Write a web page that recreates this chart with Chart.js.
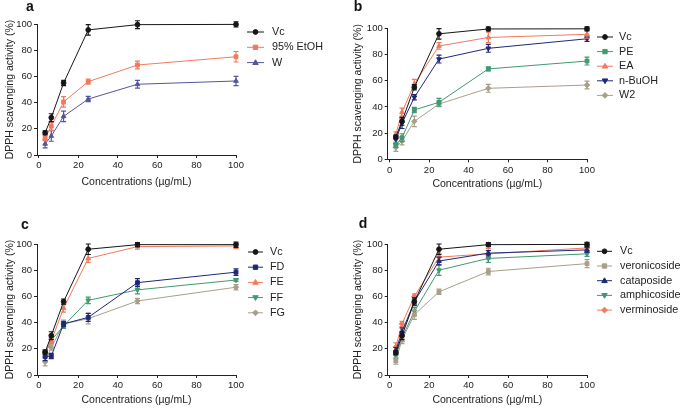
<!DOCTYPE html>
<html><head><meta charset="utf-8">
<script src="https://cdn.jsdelivr.net/npm/chart.js@4.4.1/dist/chart.umd.min.js"></script>
<style>
html,body{margin:0;padding:0;background:#fff;}
#wrap{position:relative;width:685px;height:408px;overflow:hidden;}
canvas{position:absolute;}
</style></head><body>
<div id="wrap">
<canvas id="ca" width="342" height="204" style="left:0;top:0"></canvas>
<canvas id="cb" width="343" height="204" style="left:342px;top:0"></canvas>
<canvas id="cc" width="342" height="204" style="left:0;top:204px"></canvas>
<canvas id="cd" width="343" height="204" style="left:342px;top:204px"></canvas>
</div>
<script>
// ---------- data ----------
const conc = [3.125, 6.25, 12.5, 25, 50, 100];
const xTicks = [0, 20, 40, 60, 80, 100];
const yTicks = [0, 20, 40, 60, 80, 100];
const xTitle = 'Concentrations (µg/mL)';
const yTitle = 'DPPH scavenging activity (%)';

// panel a
const aVc = [17, 28.5, 55, 95.5, 99.5, 99.7];
const aVcErr = [1.5, 3, 2, 4, 3, 2];
const aEtOH = [13, 22, 40.5, 56, 68.7, 75];
const aEtOHErr = [2, 3, 4, 2, 3, 4];
const aW = [8.5, 14.5, 29.5, 42.7, 54, 56.5];
const aWErr = [3, 4, 4, 2, 3, 3.5];

// panel b
const bVc = [17, 29, 55, 95.8, 99.5, 99.6];
const bVcErr = [1.5, 3, 2, 4, 1.5, 1.5];
const bPE = [11, 16.5, 37.7, 43.5, 69, 75];
const bPEErr = [2, 3, 2, 3, 1.5, 3];
const bEA = [19, 36, 57.5, 86.5, 93, 95.4];
const bEAErr = [2, 3, 3.5, 2.5, 4, 3];
const bBuOH = [15, 27.5, 47.3, 76.5, 84.7, 92];
const bBuOHErr = [3, 4, 2, 3, 3, 2];
const bW2 = [9, 14, 29, 42.2, 54.2, 56.7];
const bW2Err = [3, 3, 4, 2, 3, 3];

// panel c
const cVc = [17.5, 30, 56, 96, 99.5, 99.5];
const cVcErr = [1.5, 3, 2, 4, 1.5, 2];
const cFD = [14, 14.5, 39, 44, 70.5, 78.5];
const cFDErr = [3, 2, 2, 3, 3, 2.5];
const cFE = [17.3, 26, 51, 89, 98, 98.5];
const cFEErr = [2, 2, 3, 3, 2, 2];
const cFF = [16, 26.5, 37.5, 57, 65, 72.5];
const cFFErr = [2, 2, 2, 2.5, 3, 1];
const cFG = [10, 21, 39, 43, 56.5, 67];
const cFGErr = [3, 2, 3, 4, 2, 2];

// panel d
const dVc = [17, 30, 56, 96, 99.5, 99.7];
const dVcErr = [1.5, 3, 2, 4, 1.5, 1.5];
const dVeron = [10.7, 27, 46, 63.5, 79, 85];
const dVeronErr = [2.5, 3, 3.5, 2, 2.5, 3];
const dCatap = [19, 33, 56, 87, 93, 95.5];
const dCatapErr = [2, 3, 3, 3, 2, 2];
const dAmphi = [14.5, 28.5, 48.5, 80, 89, 92.5];
const dAmphiErr = [2, 3, 3, 4, 3, 2];
const dVermi = [21.5, 39, 60, 90, 92.5, 97];
const dVermiErr = [3, 2, 2, 3, 4, 2];

// ---------- styles ----------
const C_BLACK = '#161616';
const C_ORANGE = '#f2795c';
const C_PURPLE = '#55559e';
const C_NAVY = '#1e2878';
const C_GREEN = '#3f9a70';
const C_TAN = '#a89f88';
const FONT = "'Liberation Sans', Arial, Helvetica, sans-serif";
const AXIS = '#222';

function drawMarker(ctx, style, rot, r, x, y, color) {
  ctx.save();
  ctx.fillStyle = color; ctx.strokeStyle = color; ctx.lineWidth = 1;
  ctx.translate(x, y);
  ctx.rotate(rot * Math.PI / 180);
  ctx.beginPath();
  if (style === 'circle') { ctx.arc(0, 0, r, 0, Math.PI * 2); }
  else if (style === 'rect') { ctx.rect(-r * 0.9, -r * 0.9, r * 1.8, r * 1.8); }
  else if (style === 'triangle') { const h = r * 1.2; ctx.moveTo(0, -h); ctx.lineTo(h * 0.95, h * 0.65); ctx.lineTo(-h * 0.95, h * 0.65); ctx.closePath(); }
  else if (style === 'rectRot') { ctx.moveTo(0, -r * 1.2); ctx.lineTo(r * 1.2, 0); ctx.lineTo(0, r * 1.2); ctx.lineTo(-r * 1.2, 0); ctx.closePath(); }
  ctx.fill(); ctx.stroke();
  ctx.restore();
}

const errorBars = {
  id: 'errorBars',
  afterDatasetDraw(chart, args) {
    const ds = chart.data.datasets[args.index];
    if (!ds.errors) return;
    const ctx = chart.ctx, y = chart.scales.y;
    ctx.save();
    ctx.strokeStyle = ds.borderColor; ctx.lineWidth = 1.2;
    args.meta.data.forEach((pt, j) => {
      const v = ds.data[j].y, e = ds.errors[j];
      const y1 = y.getPixelForValue(v + e), y2 = y.getPixelForValue(v - e);
      ctx.beginPath();
      ctx.moveTo(pt.x, y1); ctx.lineTo(pt.x, y2);
      ctx.moveTo(pt.x - 2.5, y1); ctx.lineTo(pt.x + 2.5, y1);
      ctx.moveTo(pt.x - 2.5, y2); ctx.lineTo(pt.x + 2.5, y2);
      ctx.stroke();
    });
    ctx.restore();
  }
};

const sideLegend = {
  id: 'sideLegend',
  afterDraw(chart) {
    const o = chart.options.plugins.sideLegend;
    const ctx = chart.ctx;
    ctx.save();
    ctx.font = '10.8px ' + FONT;
    ctx.textBaseline = 'middle';
    ctx.fillStyle = '#222';
    chart.data.datasets.forEach((ds, i) => {
      const yy = o.y0 + i * o.dy;
      ctx.strokeStyle = ds.borderColor; ctx.lineWidth = 1;
      ctx.beginPath(); ctx.moveTo(o.x1, yy); ctx.lineTo(o.x2, yy); ctx.stroke();
      drawMarker(ctx, ds.pointStyle, ds.pointRotation || 0, 2.4, (o.x1 + o.x2) / 2, yy, ds.borderColor);
      ctx.fillStyle = '#222';
      ctx.fillText(ds.label, o.tx, yy);
    });
    // panel letter
    ctx.font = 'bold 14px ' + FONT;
    ctx.textAlign = 'center';
    ctx.fillStyle = '#111';
    ctx.fillText(o.letter, o.lx, o.ly);
    ctx.restore();
  }
};

function makePanel(id, series, L) {
  const datasets = series.map(s => ({
    label: s.label,
    data: s.values.map((v, i) => ({ x: conc[i], y: v })),
    errors: s.errors,
    borderColor: s.color,
    backgroundColor: s.color,
    pointBackgroundColor: s.color,
    pointBorderColor: s.color,
    pointStyle: s.marker,
    pointRotation: s.rot || 0,
    pointRadius: s.marker === 'circle' ? 2.4 : 2.7,
    pointBorderWidth: 1,
    borderWidth: 1,
    tension: 0,
    clip: false
  }));
  new Chart(document.getElementById(id), {
    type: 'line',
    data: { datasets },
    plugins: [errorBars, sideLegend],
    options: {
      responsive: false,
      animation: false,
      events: [],
      layout: { padding: { left: 0, top: L.top, right: L.right, bottom: 0 } },
      plugins: {
        legend: { display: false },
        tooltip: { enabled: false },
        sideLegend: L.legend
      },
      scales: {
        x: {
          type: 'linear', min: -1, max: 100,
          afterBuildTicks: s => { s.ticks = xTicks.map(v => ({ value: v })); },
          afterFit: s => { s.height = L.xH; },
          grid: { drawOnChartArea: false, drawTicks: true, tickLength: 3, color: AXIS, lineWidth: 1 },
          border: { display: true, color: AXIS, width: 1 },
          ticks: { font: { family: FONT, size: 9.5 }, color: '#222', padding: 2, maxRotation: 0, autoSkip: false },
          title: { display: true, text: xTitle, font: { family: FONT, size: 10.5 }, color: '#222', padding: { top: 0, bottom: L.xTitlePad } }
        },
        y: {
          min: 0, max: 100,
          afterBuildTicks: s => { s.ticks = yTicks.map(v => ({ value: v })); },
          afterFit: s => { s.width = L.yW; },
          grid: { drawOnChartArea: false, drawTicks: true, tickLength: 3, color: AXIS, lineWidth: 1 },
          border: { display: true, color: AXIS, width: 1 },
          ticks: { font: { family: FONT, size: 9.5 }, color: '#222', padding: 2 },
          title: { display: true, text: yTitle, font: { family: FONT, size: 10.5 }, color: '#222', padding: { top: L.yTitlePad, bottom: 0 } }
        }
      }
    }
  });
}

makePanel('ca', [
  { label: 'Vc', values: aVc, errors: aVcErr, color: C_BLACK, marker: 'circle' },
  { label: '95% EtOH', values: aEtOH, errors: aEtOHErr, color: C_ORANGE, marker: 'rect' },
  { label: 'W', values: aW, errors: aWErr, color: C_PURPLE, marker: 'triangle' }
], { top: 24, right: 106, yW: 37, xH: 49, yTitlePad: 3.7, xTitlePad: 16,
     legend: { x1: 247, x2: 264, tx: 272, y0: 32, dy: 15.3, letter: 'a', lx: 30, ly: 7 } });

makePanel('cb', [
  { label: 'Vc', values: bVc, errors: bVcErr, color: C_BLACK, marker: 'circle' },
  { label: 'PE', values: bPE, errors: bPEErr, color: C_GREEN, marker: 'rect' },
  { label: 'EA', values: bEA, errors: bEAErr, color: C_ORANGE, marker: 'triangle' },
  { label: 'n-BuOH', values: bBuOH, errors: bBuOHErr, color: C_NAVY, marker: 'triangle', rot: 180 },
  { label: 'W2', values: bW2, errors: bW2Err, color: C_TAN, marker: 'rectRot' }
], { top: 28.3, right: 98, yW: 45.7, xH: 44.7, yTitlePad: 9.4, xTitlePad: 13.7,
     legend: { x1: 255, x2: 271, tx: 277, y0: 37, dy: 14.6, letter: 'b', lx: 16, ly: 7 } });

makePanel('cc', [
  { label: 'Vc', values: cVc, errors: cVcErr, color: C_BLACK, marker: 'circle' },
  { label: 'FD', values: cFD, errors: cFDErr, color: C_NAVY, marker: 'rect' },
  { label: 'FE', values: cFE, errors: cFEErr, color: C_ORANGE, marker: 'triangle' },
  { label: 'FF', values: cFF, errors: cFFErr, color: C_GREEN, marker: 'triangle', rot: 180 },
  { label: 'FG', values: cFG, errors: cFGErr, color: C_TAN, marker: 'rectRot' }
], { top: 40, right: 106, yW: 37, xH: 33, yTitlePad: 3.7, xTitlePad: 1.7,
     legend: { x1: 248, x2: 263, tx: 270, y0: 48, dy: 15.2, letter: 'c', lx: 25, ly: 21 } });

makePanel('cd', [
  { label: 'Vc', values: dVc, errors: dVcErr, color: C_BLACK, marker: 'circle' },
  { label: 'veronicoside', values: dVeron, errors: dVeronErr, color: C_TAN, marker: 'rect' },
  { label: 'cataposide', values: dCatap, errors: dCatapErr, color: C_NAVY, marker: 'triangle' },
  { label: 'amphicoside', values: dAmphi, errors: dAmphiErr, color: C_GREEN, marker: 'triangle', rot: 180 },
  { label: 'verminoside', values: dVermi, errors: dVermiErr, color: C_ORANGE, marker: 'rectRot' }
], { top: 40, right: 98, yW: 45.7, xH: 33, yTitlePad: 9.4, xTitlePad: 1.7,
     legend: { x1: 255, x2: 270, tx: 278, y0: 47.3, dy: 14.7, letter: 'd', lx: 21, ly: 20 } });
</script>
</body></html>
